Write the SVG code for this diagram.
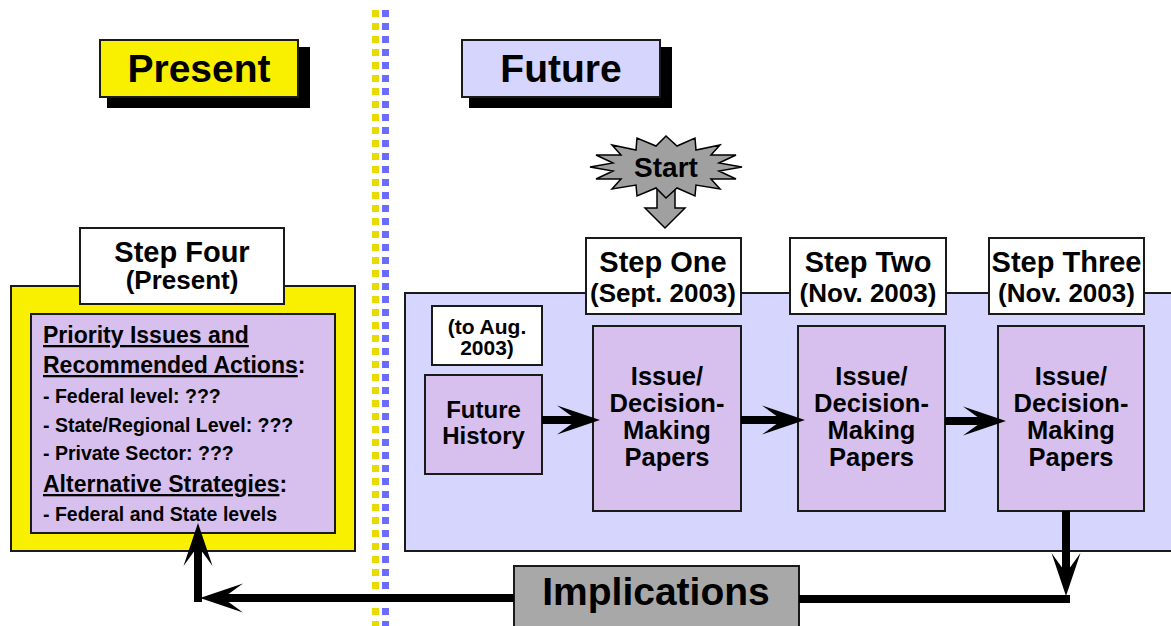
<svg xmlns="http://www.w3.org/2000/svg" width="1171" height="626" viewBox="0 0 1171 626">
  <defs>
    <style>
      text { font-family: "Liberation Sans", Arial, sans-serif; font-weight: bold; fill: #000; }
      .box { stroke: #1a1a1a; stroke-width: 2; }
      .white { fill: #fff; }
      .lav { fill: #d8c0ee; }
      .blue { fill: #d5d5fd; }
      .flow { stroke: #000; stroke-width: 8; fill: none; }
      .mid { text-anchor: middle; }
      .ul { text-decoration: underline; }
    </style>
    <marker id="head" markerUnits="userSpaceOnUse" markerWidth="44" markerHeight="30" refX="20" refY="14.5" orient="auto" overflow="visible">
      <path d="M0,0 L43,14.5 L0,29 L20,14.5 Z" fill="#000"/>
    </marker>
  </defs>

  <!-- dotted divider between the two halves -->
  <g id="divider">
    <line x1="375.5" y1="10" x2="375.5" y2="626" stroke="#e6dc00" stroke-width="7" stroke-dasharray="7 6"/>
    <line x1="385.5" y1="10" x2="385.5" y2="626" stroke="#6b6bff" stroke-width="7" stroke-dasharray="7 6"/>
  </g>

  <!-- section headers -->
  <g id="present-title">
    <rect x="107" y="47" width="203" height="61" fill="#000"/>
    <rect x="100" y="40" width="198" height="57" fill="#f9f000" class="box"/>
    <text x="199" y="81.5" font-size="39" class="mid">Present</text>
  </g>
  <g id="future-title">
    <rect x="469" y="47" width="203" height="61" fill="#000"/>
    <rect x="462" y="40" width="198" height="57" class="box blue"/>
    <text x="561" y="81.5" font-size="39" class="mid">Future</text>
  </g>

  <!-- future panel -->
  <g id="future-panel">
    <rect x="405" y="293" width="800" height="258" class="box blue"/>
  </g>

  <!-- start burst with its arrow -->
  <g id="start">
    <path d="M657,188 L675,188 L675,208 L685,208 L665,228 L645,208 L657,208 Z" fill="#a0a0a0" stroke="#000" stroke-width="1.5"/>
    <polygon fill="#a0a0a0" stroke="#000" stroke-width="1.5" points="742,167 719,171 736,179 711,179 720,189 696,185 695,196 677,188 666,198 656,188 637,196 636,185 612,189 621,179 596,179 613,171 590,167 613,163 596,155 621,155 612,145 636,150 637,138 656,146 666,136 677,146 695,138 696,150 720,145 711,155 736,155 719,163"/>
    <text x="666" y="177" font-size="28" class="mid">Start</text>
  </g>

  <!-- step labels -->
  <g id="step-one">
    <rect x="586" y="238" width="155" height="76" class="box white"/>
    <text x="663" y="272" font-size="29" class="mid">Step One</text>
    <text x="663" y="302" font-size="26" class="mid">(Sept. 2003)</text>
  </g>
  <g id="step-two">
    <rect x="790" y="238" width="156" height="76" class="box white"/>
    <text x="868" y="272" font-size="29" class="mid">Step Two</text>
    <text x="868" y="302" font-size="26" class="mid">(Nov. 2003)</text>
  </g>
  <g id="step-three">
    <rect x="989" y="238" width="155" height="76" class="box white"/>
    <text x="1066.5" y="272" font-size="29" class="mid">Step Three</text>
    <text x="1066.5" y="302" font-size="26" class="mid">(Nov. 2003)</text>
  </g>

  <!-- future history -->
  <g id="history-date">
    <rect x="432" y="306" width="110" height="59" class="box white"/>
    <text x="487" y="334" font-size="21" class="mid">(to Aug.</text>
    <text x="487" y="355" font-size="21" class="mid">2003)</text>
  </g>
  <g id="future-history">
    <rect x="425" y="375" width="117" height="99" class="box lav"/>
    <text x="483.5" y="418" font-size="24" class="mid">Future</text>
    <text x="483.5" y="444" font-size="24" class="mid">History</text>
  </g>

  <!-- issue papers -->
  <g id="papers-one">
    <rect x="593" y="326" width="148" height="185" class="box lav"/>
    <text x="667" y="385" font-size="25.5" class="mid">Issue/</text>
    <text x="667" y="412" font-size="25.5" class="mid">Decision-</text>
    <text x="667" y="439" font-size="25.5" class="mid">Making</text>
    <text x="667" y="466" font-size="25.5" class="mid">Papers</text>
  </g>
  <g id="papers-two">
    <rect x="798" y="326" width="147" height="185" class="box lav"/>
    <text x="871.5" y="385" font-size="25.5" class="mid">Issue/</text>
    <text x="871.5" y="412" font-size="25.5" class="mid">Decision-</text>
    <text x="871.5" y="439" font-size="25.5" class="mid">Making</text>
    <text x="871.5" y="466" font-size="25.5" class="mid">Papers</text>
  </g>
  <g id="papers-three">
    <rect x="998" y="326" width="146" height="185" class="box lav"/>
    <text x="1071" y="385" font-size="25.5" class="mid">Issue/</text>
    <text x="1071" y="412" font-size="25.5" class="mid">Decision-</text>
    <text x="1071" y="439" font-size="25.5" class="mid">Making</text>
    <text x="1071" y="466" font-size="25.5" class="mid">Papers</text>
  </g>

  <!-- step four (present) -->
  <g id="step-four">
    <rect x="11" y="286" width="344" height="265" fill="#f9f000" class="box"/>
    <rect x="31" y="314" width="304" height="219" class="box lav"/>
    <rect x="80" y="228" width="204" height="76" class="box white"/>
    <text x="182" y="262" font-size="29" class="mid">Step Four</text>
    <text x="182" y="289" font-size="26" class="mid">(Present)</text>
    <text x="43" y="343" font-size="23"><tspan class="ul">Priority Issues and</tspan></text>
    <text x="43" y="373" font-size="23"><tspan class="ul">Recommended Actions</tspan>:</text>
    <text x="43" y="403" font-size="19.5">- Federal level: ???</text>
    <text x="43" y="432" font-size="19.5">- State/Regional Level: ???</text>
    <text x="43" y="460" font-size="19.5">- Private Sector: ???</text>
    <text x="43" y="492" font-size="23"><tspan class="ul">Alternative Strategies</tspan>:</text>
    <text x="43" y="521" font-size="19.5">- Federal and State levels</text>
  </g>

  <!-- implications -->
  <g id="implications">
    <rect x="514" y="566" width="285" height="70" fill="#a8a8a8" class="box"/>
    <text x="656" y="605" font-size="39" class="mid">Implications</text>
  </g>

  <!-- connectors -->
  <g id="connectors">
    <line x1="542" y1="420" x2="577" y2="420" class="flow" marker-end="url(#head)"/>
    <line x1="741" y1="420" x2="782" y2="420" class="flow" marker-end="url(#head)"/>
    <line x1="945" y1="421" x2="983" y2="421" class="flow" marker-end="url(#head)"/>
    <line x1="1066" y1="511" x2="1066" y2="573" class="flow" marker-end="url(#head)"/>
    <line x1="799" y1="599" x2="1070" y2="599" class="flow"/>
    <line x1="514" y1="598" x2="223" y2="598" class="flow" marker-end="url(#head)"/>
    <line x1="198" y1="602" x2="198" y2="546" class="flow" marker-end="url(#head)"/>
  </g>
</svg>
